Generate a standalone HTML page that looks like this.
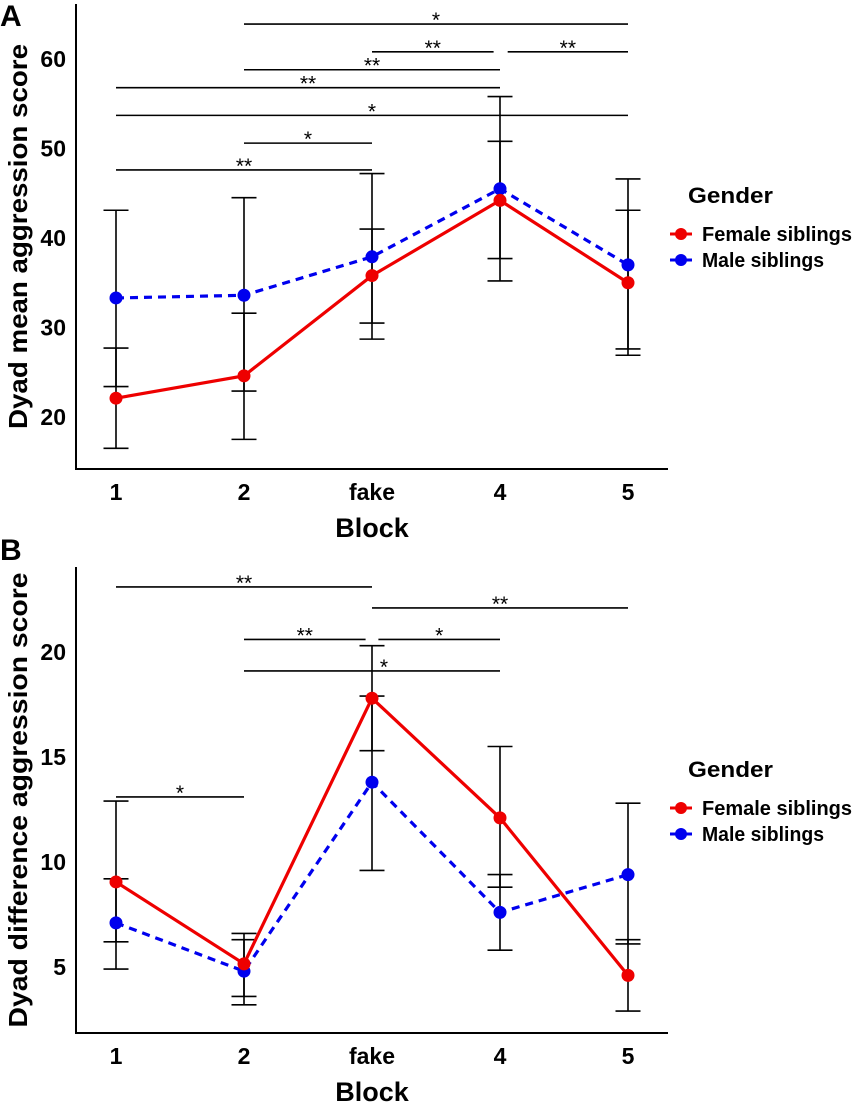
<!DOCTYPE html>
<html><head><meta charset="utf-8"><style>
html,body{margin:0;padding:0;background:#fff;}
svg{display:block;font-family:"Liberation Sans",Arial,sans-serif;}
</style></head><body>
<svg id="chart" width="855" height="1103" viewBox="0 0 855 1103" xmlns="http://www.w3.org/2000/svg"></svg>
<script>
const categories = ["1","2","fake","4","5"];
// Panel A
const aFemale = [22.1, 24.6, 35.8, 44.2, 35.0];
const aFemaleHi = [27.7, 31.6, 41.0, 50.8, 43.1];
const aFemaleLo = [16.5, 17.5, 30.5, 37.7, 26.9];
const aMale = [33.3, 33.6, 37.9, 45.5, 37.0];
const aMaleHi = [43.1, 44.5, 47.2, 55.8, 46.6];
const aMaleLo = [23.4, 22.9, 28.7, 35.2, 27.6];
const aTicks = [20, 30, 40, 50, 60];
// significance brackets: [fromIndex, toIndex, value-level, label]
const aSig = [[1,4,63.9,"*"],[2,2.95,60.8,"**"],[3.06,4,60.8,"**"],[1,3,58.8,"**"],[0,3,56.8,"**"],[0,4,53.7,"*"],[1,2,50.6,"*"],[0,2,47.6,"**"]];
// Panel B
const bFemale = [9.05, 5.15, 17.8, 12.1, 4.6];
const bFemaleHi = [12.9, 6.6, 20.3, 15.5, 6.3];
const bFemaleLo = [6.2, 3.6, 15.3, 8.8, 2.9];
const bMale = [7.1, 4.8, 13.8, 7.6, 9.4];
const bMaleHi = [9.2, 6.3, 17.9, 9.4, 12.8];
const bMaleLo = [4.9, 3.2, 9.6, 5.8, 6.1];
const bTicks = [5, 10, 15, 20];
const bSig = [[0,2,23.1,"**"],[2,4,22.1,"**"],[1,1.95,20.6,"**"],[2.05,3,20.6,"*"],[1,3,19.1,"*"],[0,1,13.1,"*"]];

const svg = document.getElementById('chart');
const NS = "http://www.w3.org/2000/svg";
function mk(tag, attrs, parent){
  const e = document.createElementNS(NS, tag);
  for (const k in attrs) e.setAttribute(k, attrs[k]);
  (parent||svg).appendChild(e);
  return e;
}
const xPos = i => 116 + i*128;

function panel(cfg){
  const g = mk('g', {});
  
  
  const y = cfg.y;
  const ax = mk('path', {d:`M76 ${cfg.top} V${cfg.bottom} H668`, stroke:'#000', 'stroke-width':2, fill:'none'}, g);
  
  
  cfg.ticks.forEach(t=>{
    const tx = mk('text', {x:66, y:y(t)+8, 'text-anchor':'end', 'font-size':23, 'font-weight':'bold'}, g);
    tx.textContent = t;
    
    
  });
  categories.forEach((c,i)=>{
    const tx = mk('text', {x:xPos(i), y:cfg.bottom+31, 'text-anchor':'middle', 'font-size':23, 'font-weight':'bold'}, g);
    tx.textContent = c;
    
    
  });
  const xt = mk('text', {x:372, y:cfg.bottom+68, 'text-anchor':'middle', 'font-size':27, 'font-weight':'bold'}, g);
  xt.textContent = 'Block';
  
  
  const ycx = 27, ycy = (cfg.top+cfg.bottom)/2;
  const yt = mk('text', {x:ycx, y:ycy, 'text-anchor':'middle', 'font-size':26, 'font-weight':'bold', transform:`rotate(-90 ${ycx} ${ycy})`, textLength:cfg.ylen, lengthAdjust:'spacingAndGlyphs'}, g);
  yt.textContent = cfg.ytitle;
  
  
  const pl = mk('text', {x:0, y:cfg.letterY, 'font-size':30, 'font-weight':'bold'}, g);
  pl.textContent = cfg.letter;
  
  
  cfg.sig.forEach(s=>{
    const x1 = xPos(Math.min(s[0],s[1])), x2 = xPos(Math.max(s[0],s[1])), yy = y(s[2]);
    const ln = mk('line', {x1:x1, x2:x2, y1:yy, y2:yy, stroke:'#000', 'stroke-width':1.6}, g);
    
    
    let cx = (x1+x2)/2;
    if (cfg.starShift && cfg.starShift[s.join()]) cx = cfg.starShift[s.join()];
    const st = mk('text', {x:cx, y:yy+3, 'text-anchor':'middle', 'font-size':21}, g);
    st.textContent = s[3];
    
    
  });
  [[cfg.fHi,cfg.fLo],[cfg.mHi,cfg.mLo]].forEach(([hi,lo])=>{
    hi.forEach((h,i)=>{
      const x = xPos(i);
      const eb = mk('path', {d:`M${x} ${y(h)} V${y(lo[i])} M${x-12.5} ${y(h)} H${x+12.5} M${x-12.5} ${y(lo[i])} H${x+12.5}`, stroke:'#000', 'stroke-width':1.6, fill:'none'}, g);
      
      
    });
  });
  [[cfg.m,'#0000ee','8 6','male-series'],[cfg.f,'#ee0000','','female-series']].forEach(([vals,col,dash,nm])=>{
    const pts = vals.map((v,i)=>`${xPos(i)},${y(v)}`).join(' ');
    const line = mk('polyline', {points:pts, fill:'none', stroke:col, 'stroke-width':3.2}, g);
    if (dash) line.setAttribute('stroke-dasharray', dash);
    
    
    vals.forEach((v,i)=>{
      const c = mk('circle', {cx:xPos(i), cy:y(v), r:6.5, fill:col}, g);
      
      
    });
  });
  const lg = mk('g', {}, g);
  
  
  const lt = mk('text', {x:688, y:cfg.legY, 'font-size':22, 'font-weight':'bold', textLength:85, lengthAdjust:'spacingAndGlyphs'}, lg);
  lt.textContent = 'Gender';
  
  
  [['#ee0000','Female siblings',31,150],['#0000ee','Male siblings',57,122]].forEach(([col,label,dy,w])=>{
    const ey = cfg.legY + dy;
    const e = mk('g', {}, lg);
    
    
    mk('line', {x1:670, x2:692, y1:ey, y2:ey, stroke:col, 'stroke-width':3}, e);
    mk('circle', {cx:681, cy:ey, r:6, fill:col}, e);
    const t = mk('text', {x:702, y:ey+7, 'font-size':20, 'font-weight':'bold', textLength:w, lengthAdjust:'spacingAndGlyphs'}, e);
    t.textContent = label;
  });
}

panel({name:'panel-a', y:v=>417-(v-20)*8.95, top:4, bottom:469, ticks:aTicks, sig:aSig,
  f:aFemale, fHi:aFemaleHi, fLo:aFemaleLo, m:aMale, mHi:aMaleHi, mLo:aMaleLo,
  ytitle:'Dyad mean aggression score', ylen:385, letter:'A', letterY:26, legY:203});
panel({name:'panel-b', y:v=>862-(v-10)*21, top:567, bottom:1033, ticks:bTicks, sig:bSig,
  f:bFemale, fHi:bFemaleHi, fLo:bFemaleLo, m:bMale, mHi:bMaleHi, mLo:bMaleLo,
  starShift:{"1,3,19.1,*":384},
  ytitle:'Dyad difference aggression score', ylen:455, letter:'B', letterY:560, legY:777});
</script>
</body></html>
